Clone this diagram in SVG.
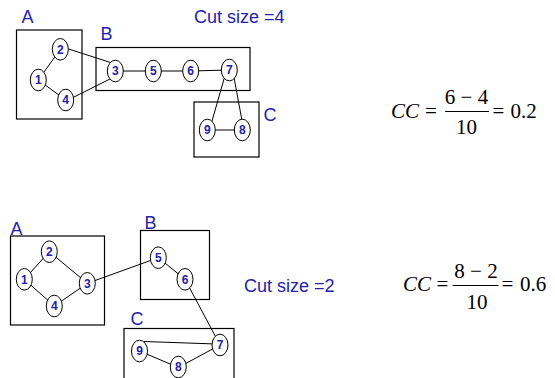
<svg xmlns="http://www.w3.org/2000/svg" width="555" height="378" viewBox="0 0 555 378">
<style>
.box{fill:none;stroke:#000;stroke-width:1.2}
.nd ellipse{fill:#fff;stroke:#000;stroke-width:1}
.nd text{font-family:"Liberation Sans",Arial,sans-serif;font-weight:bold;font-size:12px;fill:#2020a8;text-anchor:middle}
.lbl{font-family:"Liberation Sans",Arial,sans-serif;font-size:18px;fill:#2222ad}
.edges line{stroke:#000;stroke-width:1}
.m{font-family:"Liberation Serif","Times New Roman",serif;font-size:21px;fill:#000}
.mi{font-style:italic}
.bar{stroke:#000;stroke-width:1}
</style>

<!-- Top partition -->
<g id="boxA1"><rect class="box" x="16.5" y="30" width="65.5" height="89"/><text class="lbl" x="21.5" y="23">A</text></g>
<g id="boxB1"><rect class="box" x="96" y="47.5" width="154" height="43"/><text class="lbl" x="100.5" y="39.5">B</text></g>
<g id="boxC1"><rect class="box" x="194" y="102" width="65" height="55"/><text class="lbl" x="263.5" y="121">C</text></g>
<text class="lbl" x="194" y="22.5">Cut size =4</text>

<g id="edges-top" class="edges">
<line x1="38.3" y1="80" x2="60.3" y2="49.3"/>
<line x1="38.3" y1="80" x2="65.7" y2="100"/>
<line x1="64" y1="47.5" x2="112" y2="63"/>
<line x1="68" y1="100" x2="112" y2="78"/>
<line x1="115.3" y1="71" x2="153.3" y2="71"/>
<line x1="153.3" y1="71" x2="190.7" y2="71"/>
<line x1="190.7" y1="71" x2="229.3" y2="70"/>
<line x1="226" y1="72" x2="210" y2="128"/>
<line x1="233" y1="72" x2="243" y2="126"/>
<line x1="207.3" y1="130" x2="242.3" y2="130"/>
</g>

<g id="t1" class="nd"><ellipse cx="38.3" cy="80" rx="8" ry="10.8"/><text x="38.3" y="84.2">1</text></g>
<g id="t2" class="nd"><ellipse cx="60.3" cy="49.3" rx="8" ry="10.8"/><text x="60.3" y="53.5">2</text></g>
<g id="t4" class="nd"><ellipse cx="65.7" cy="100" rx="8" ry="10.8"/><text x="65.7" y="104.2">4</text></g>
<g id="t3" class="nd"><ellipse cx="115.3" cy="71" rx="8" ry="10.8"/><text x="115.3" y="75.2">3</text></g>
<g id="t5" class="nd"><ellipse cx="153.3" cy="71" rx="8" ry="10.8"/><text x="153.3" y="75.2">5</text></g>
<g id="t6" class="nd"><ellipse cx="190.7" cy="71" rx="8" ry="10.8"/><text x="190.7" y="75.2">6</text></g>
<g id="t7" class="nd"><ellipse cx="229.3" cy="70" rx="8" ry="10.8"/><text x="229.3" y="74.2">7</text></g>
<g id="t9" class="nd"><ellipse cx="207.3" cy="130" rx="8" ry="10.8"/><text x="207.3" y="134.2">9</text></g>
<g id="t8" class="nd"><ellipse cx="242.3" cy="130" rx="8" ry="10.8"/><text x="242.3" y="134.2">8</text></g>

<g id="formula1">
<text class="m mi" x="391" y="118">CC</text>
<text class="m" x="425" y="118">=</text>
<text class="m" x="466.5" y="104" text-anchor="middle">6 − 4</text>
<line class="bar" x1="445" y1="111.5" x2="489" y2="111.5"/>
<text class="m" x="466.5" y="134" text-anchor="middle">10</text>
<text class="m" x="492.5" y="118">=</text>
<text class="m" x="510.5" y="118">0.2</text>
</g>

<!-- Bottom partition -->
<g id="boxA2"><rect class="box" x="10.5" y="236" width="94" height="89"/><text class="lbl" x="10.5" y="235">A</text></g>
<g id="boxB2"><rect class="box" x="140.5" y="230.5" width="69" height="69"/><text class="lbl" x="144.5" y="228.5">B</text></g>
<g id="boxC2"><rect class="box" x="124" y="328.5" width="110" height="60"/><text class="lbl" x="130.5" y="324.5">C</text></g>
<text class="lbl" x="244" y="291.5">Cut size =2</text>

<g id="edges-bottom" class="edges">
<line x1="24.3" y1="279.3" x2="49.3" y2="251.7"/>
<line x1="24.3" y1="279.3" x2="54.3" y2="306"/>
<line x1="49.3" y1="251.7" x2="87.3" y2="283.3"/>
<line x1="54.3" y1="306" x2="87.3" y2="283.3"/>
<line x1="87.3" y1="283.3" x2="158.3" y2="257.7"/>
<line x1="158.3" y1="257.7" x2="185" y2="279.3"/>
<line x1="185" y1="279.3" x2="220" y2="345"/>
<line x1="144" y1="341.5" x2="216" y2="344"/>
<line x1="139.5" y1="351" x2="178.3" y2="367.5"/>
<line x1="178.3" y1="367.5" x2="220" y2="345"/>
</g>

<g id="b1" class="nd"><ellipse cx="24.3" cy="279.3" rx="8" ry="10.8"/><text x="24.3" y="283.5">1</text></g>
<g id="b2" class="nd"><ellipse cx="49.3" cy="251.7" rx="8" ry="10.8"/><text x="49.3" y="255.9">2</text></g>
<g id="b3" class="nd"><ellipse cx="87.3" cy="283.3" rx="8" ry="10.8"/><text x="87.3" y="287.5">3</text></g>
<g id="b4" class="nd"><ellipse cx="54.3" cy="306" rx="8" ry="10.8"/><text x="54.3" y="310.2">4</text></g>
<g id="b5" class="nd"><ellipse cx="158.3" cy="257.7" rx="8" ry="10.8"/><text x="158.3" y="261.9">5</text></g>
<g id="b6" class="nd"><ellipse cx="185" cy="279.3" rx="8" ry="10.8"/><text x="185" y="283.5">6</text></g>
<g id="b9" class="nd"><ellipse cx="139.5" cy="351" rx="8" ry="10.8"/><text x="139.5" y="355.2">9</text></g>
<g id="b8" class="nd"><ellipse cx="178.3" cy="367" rx="8" ry="10.8"/><text x="178.3" y="371.2">8</text></g>
<g id="b7" class="nd"><ellipse cx="220" cy="345" rx="8" ry="10.8"/><text x="220" y="349.2">7</text></g>

<g id="formula2">
<text class="m mi" x="403" y="291">CC</text>
<text class="m" x="436.5" y="291">=</text>
<text class="m" x="476" y="278" text-anchor="middle">8 − 2</text>
<line class="bar" x1="452.5" y1="285.5" x2="498.5" y2="285.5"/>
<text class="m" x="477" y="309" text-anchor="middle">10</text>
<text class="m" x="501.5" y="291">=</text>
<text class="m" x="520" y="291">0.6</text>
</g>
</svg>
